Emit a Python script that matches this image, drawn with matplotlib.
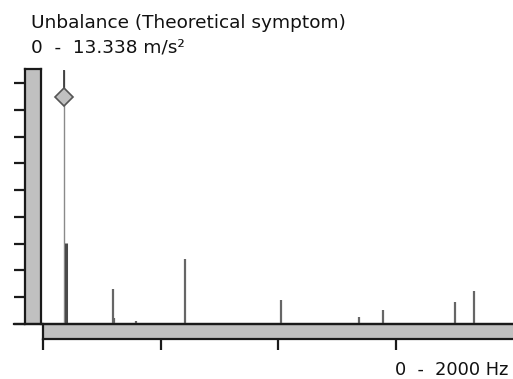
import matplotlib
matplotlib.use("Agg")
import matplotlib.pyplot as plt
from matplotlib.lines import Line2D

# ---- data ----
title = "Unbalance (Theoretical symptom)"
y_range_label = "0  -  13.338 m/s\u00b2"
x_range_label = "0  -  2000 Hz"
y_max = 13.338
x_max = 2000
freqs_hz = [98, 298, 304, 396, 604, 1013, 1346, 1446, 1753, 1834]
amps = [4.26, 1.82, 0.30, 0.17, 3.38, 1.26, 0.38, 0.72, 1.17, 1.71]
cursor_hz = 88
cursor_top = 13.29
cursor_marker = 11.89
y_ticks = [0, 1.4, 2.8, 4.2, 5.6, 7.0, 8.4, 9.8, 11.2, 12.6]
x_ticks = [0, 500, 1000, 1500]

W, H = 513, 379
fig = plt.figure(figsize=(W / 100, H / 100), dpi=100)
fig.patch.set_facecolor("white")

def rect(x0, y0, x1, y1):
    return [x0 / W, 1 - y1 / H, (x1 - x0) / W, (y1 - y0) / H]

edge = "#1a1a1a"
barfill = "#c0c0c0"
tick_len = 11 * 72 / 100

# vertical bar (y axis)
axv = fig.add_axes(rect(25, 69, 41, 324))
axv.set_facecolor(barfill)
axv.set_ylim(0, y_max)
axv.set_xticks([])
axv.set_yticks(y_ticks)
axv.set_yticklabels([])
axv.tick_params(axis="y", direction="out", length=tick_len, width=1.6, color=edge)
for s in axv.spines.values():
    s.set_color(edge)
    s.set_linewidth(1.6)

# horizontal bar (x axis)
axh = fig.add_axes(rect(43, 324, 513, 339))
axh.set_facecolor(barfill)
axh.set_xlim(0, x_max)
axh.set_yticks([])
axh.set_xticks(x_ticks)
axh.set_xticklabels([])
axh.tick_params(axis="x", direction="out", length=tick_len, width=1.6, color=edge)
for k, s in axh.spines.items():
    s.set_color(edge)
    s.set_linewidth(1.6)
axh.spines["right"].set_visible(False)

# main plotting area
ax = fig.add_axes(rect(43, 69, 513, 324))
ax.set_xlim(0, x_max)
ax.set_ylim(0, y_max)
ax.axis("off")
ax.patch.set_alpha(0)

ax.vlines(cursor_hz, 0, cursor_top, color="#8a8a8a", lw=1.0, zorder=2)
ax.vlines(cursor_hz, cursor_marker, cursor_top, color="#333333", lw=1.2, zorder=2)
ax.plot([cursor_hz], [cursor_marker], marker="D", ms=9, mfc=barfill, mec="#555555",
        mew=1.2, zorder=4, clip_on=False)
ax.vlines(freqs_hz[0], 0, amps[0], color="#4a4a4a", lw=2.2, zorder=3)
ax.vlines(freqs_hz[1:], 0, amps[1:], color="#666666", lw=1.6, zorder=3)

# baseline line across
fig.add_artist(Line2D([14 / W, 1], [1 - 324 / H, 1 - 324 / H], color=edge, lw=1.6))

fs = 13.3
fig.text(31 / W, 1 - 28 / H, title, fontsize=fs, color="#111111", va="baseline", ha="left")
fig.text(31 / W, 1 - 53 / H, y_range_label, fontsize=fs, color="#111111", va="baseline", ha="left")
fig.text(508 / W, 1 - 375 / H, x_range_label, fontsize=12.8, color="#111111", va="baseline", ha="right")

fig.savefig("out.png", dpi=100, facecolor="white")
